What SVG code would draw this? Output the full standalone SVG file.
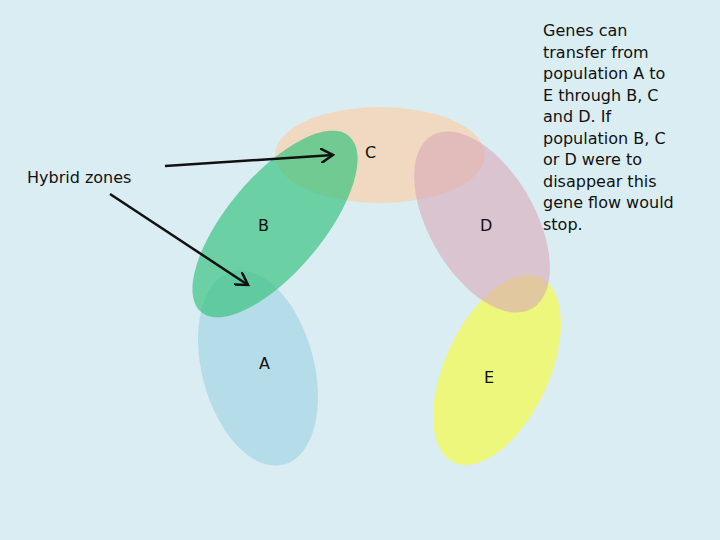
<svg xmlns="http://www.w3.org/2000/svg" width="720" height="540" viewBox="0 0 720 540">
<style>
text{font-family:"DejaVu Sans","Liberation Sans",sans-serif;font-size:16px;fill:#111}
.c{stroke:#111;stroke-width:2.5;fill:none;marker-end:url(#ah)}
</style>
<defs><marker id="ah" markerWidth="6" markerHeight="6" refX="5" refY="3" orient="auto" markerUnits="strokeWidth"><path d="M0,0 L5,3 L0,6" fill="none" stroke="#111" stroke-width="1"/></marker></defs>
<rect width="720" height="540" fill="#daedf3"/>
<g id="C"><ellipse cx="380" cy="155" rx="105" ry="48" fill="#f5d3b3" fill-opacity="0.8"/><text x="365" y="158">C</text></g>
<g id="A"><ellipse cx="258" cy="368" rx="56" ry="100" transform="rotate(-15 258 368)" fill="#add8e6" fill-opacity="0.85"/><text x="259" y="369">A</text></g>
<g id="B"><ellipse cx="275" cy="224" rx="48" ry="115" transform="rotate(40 275 224)" fill="#3cc380" fill-opacity="0.7"/><text x="258" y="231">B</text></g>
<g id="E"><ellipse cx="497" cy="370" rx="52" ry="102" transform="rotate(25 497 370)" fill="#eef874" fill-opacity="0.95"/><text x="484" y="383">E</text></g>
<g id="D"><ellipse cx="482" cy="222" rx="53" ry="100" transform="rotate(-30 482 222)" fill="#d9a8b8" fill-opacity="0.6"/><text x="480" y="231">D</text></g>
<g id="label"><text x="27" y="183">Hybrid zones</text></g>
<g id="note"><text x="543" y="36">Genes can<tspan x="543" dy="21.5">transfer from</tspan><tspan x="543" dy="21.5">population A to</tspan><tspan x="543" dy="21.5">E through B, C</tspan><tspan x="543" dy="21.5">and D. If</tspan><tspan x="543" dy="21.5">population B, C</tspan><tspan x="543" dy="21.5">or D were to</tspan><tspan x="543" dy="21.5">disappear this</tspan><tspan x="543" dy="21.5">gene flow would</tspan><tspan x="543" dy="21.5">stop.</tspan></text></g>
<g id="connectors"><line class="c" x1="165" y1="166" x2="333" y2="155"/><line class="c" x1="110" y1="194" x2="248" y2="285"/></g>
</svg>
